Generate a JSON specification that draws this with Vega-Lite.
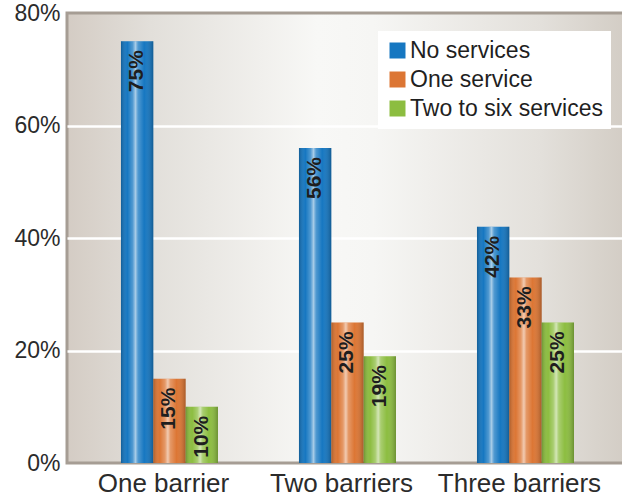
{
  "$schema": "https://vega.github.io/schema/vega-lite/v6.json",
  "autosize": "none",
  "padding": {"left": 67, "top": 13, "right": 0, "bottom": 37},
  "width": 557,
  "height": 450,
  "data": {
    "values": [
      {"barrier": "One barrier", "series": "No services", "value": 75, "label": "75%"},
      {"barrier": "One barrier", "series": "One service", "value": 15, "label": "15%"},
      {"barrier": "One barrier", "series": "Two to six services", "value": 10, "label": "10%"},
      {"barrier": "Two barriers", "series": "No services", "value": 56, "label": "56%"},
      {"barrier": "Two barriers", "series": "One service", "value": 25, "label": "25%"},
      {"barrier": "Two barriers", "series": "Two to six services", "value": 19, "label": "19%"},
      {"barrier": "Three barriers", "series": "No services", "value": 42, "label": "42%"},
      {"barrier": "Three barriers", "series": "One service", "value": 33, "label": "33%"},
      {"barrier": "Three barriers", "series": "Two to six services", "value": 25, "label": "25%"}
    ]
  },
  "encoding": {
    "x": {
      "field": "barrier",
      "type": "nominal",
      "sort": ["One barrier", "Two barriers", "Three barriers"],
      "scale": {"paddingInner": 0.455, "paddingOuter": 0.292, "align": 0.519},
      "axis": {
        "title": null,
        "labelAngle": 0,
        "labelFontSize": 26,
        "labelFont": "Liberation Sans",
        "labelColor": "#2b2b2b",
        "labelPadding": 7,
        "labelOffset": -6,
        "ticks": false,
        "domain": false,
        "grid": false
      }
    },
    "xOffset": {
      "field": "series",
      "type": "nominal",
      "sort": ["No services", "One service", "Two to six services"],
      "scale": {"paddingInner": 0, "paddingOuter": 0}
    },
    "y": {
      "field": "value",
      "type": "quantitative",
      "scale": {"domain": [0, 80], "nice": false},
      "axis": {
        "title": null,
        "values": [0, 20, 40, 60, 80],
        "labelExpr": "datum.value + '%'",
        "labelFontSize": 23,
        "labelFont": "Liberation Sans",
        "labelColor": "#2b2b2b",
        "labelPadding": 7,
        "ticks": false,
        "domain": false,
        "grid": true,
        "gridWidth": 2.5,
        "gridColor": {"condition": {"test": "datum.value == 0 || datum.value == 80", "value": "transparent"}, "value": "#ffffff"}
      }
    }
  },
  "layer": [
    {
      "mark": {"type": "bar", "strokeWidth": 0},
      "encoding": {
        "color": {
          "field": "series",
          "type": "nominal",
          "scale": {
            "domain": ["No services", "One service", "Two to six services"],
            "range": ["#1677c1", "#dc7634", "#8cbd40"]
          },
          "legend": {
            "title": null,
            "orient": "none",
            "legendX": 311,
            "legendY": 18,
            "fillColor": "#ffffff",
            "padding": 8,
            "symbolType": "square",
            "symbolSize": 256,
            "symbolStrokeWidth": 0,
            "labelFontSize": 23,
            "labelFont": "Liberation Sans",
            "labelColor": "#1f1f1f",
            "labelOffset": 1,
            "labelLimit": 0,
            "rowPadding": 5
          }
        }
      }
    },
    {
      "mark": {
        "type": "bar",
        "strokeWidth": 0,
        "fill": {
          "gradient": "linear",
          "x1": 0, "y1": 0, "x2": 1, "y2": 0,
          "stops": [
            {"offset": 0, "color": "rgba(0,0,0,0.22)"},
            {"offset": 0.2, "color": "rgba(255,255,255,0)"},
            {"offset": 0.36, "color": "rgba(255,255,255,0.25)"},
            {"offset": 0.45, "color": "rgba(255,255,255,0.62)"},
            {"offset": 0.53, "color": "rgba(255,255,255,0.25)"},
            {"offset": 0.72, "color": "rgba(255,255,255,0)"},
            {"offset": 1, "color": "rgba(0,0,0,0.24)"}
          ]
        }
      }
    },
    {
      "mark": {
        "type": "text",
        "angle": 270,
        "align": "right",
        "baseline": "middle",
        "dx": -9,
        "font": "Liberation Sans",
        "fontWeight": "bold",
        "fontSize": 21,
        "color": "#1e1e1e"
      },
      "encoding": {"text": {"field": "label"}}
    }
  ],
  "config": {
    "view": {
      "stroke": "#a69d94",
      "strokeWidth": 3,
      "fill": {
        "gradient": "linear",
        "x1": 0, "y1": 0, "x2": 1, "y2": 0,
        "stops": [
          {"offset": 0, "color": "#d4ccc4"},
          {"offset": 0.15, "color": "#e2dfda"},
          {"offset": 0.45, "color": "#f8f8f6"},
          {"offset": 0.55, "color": "#f6f6f4"},
          {"offset": 0.85, "color": "#e3e0db"},
          {"offset": 1, "color": "#d3cdc5"}
        ]
      }
    }
  }
}
